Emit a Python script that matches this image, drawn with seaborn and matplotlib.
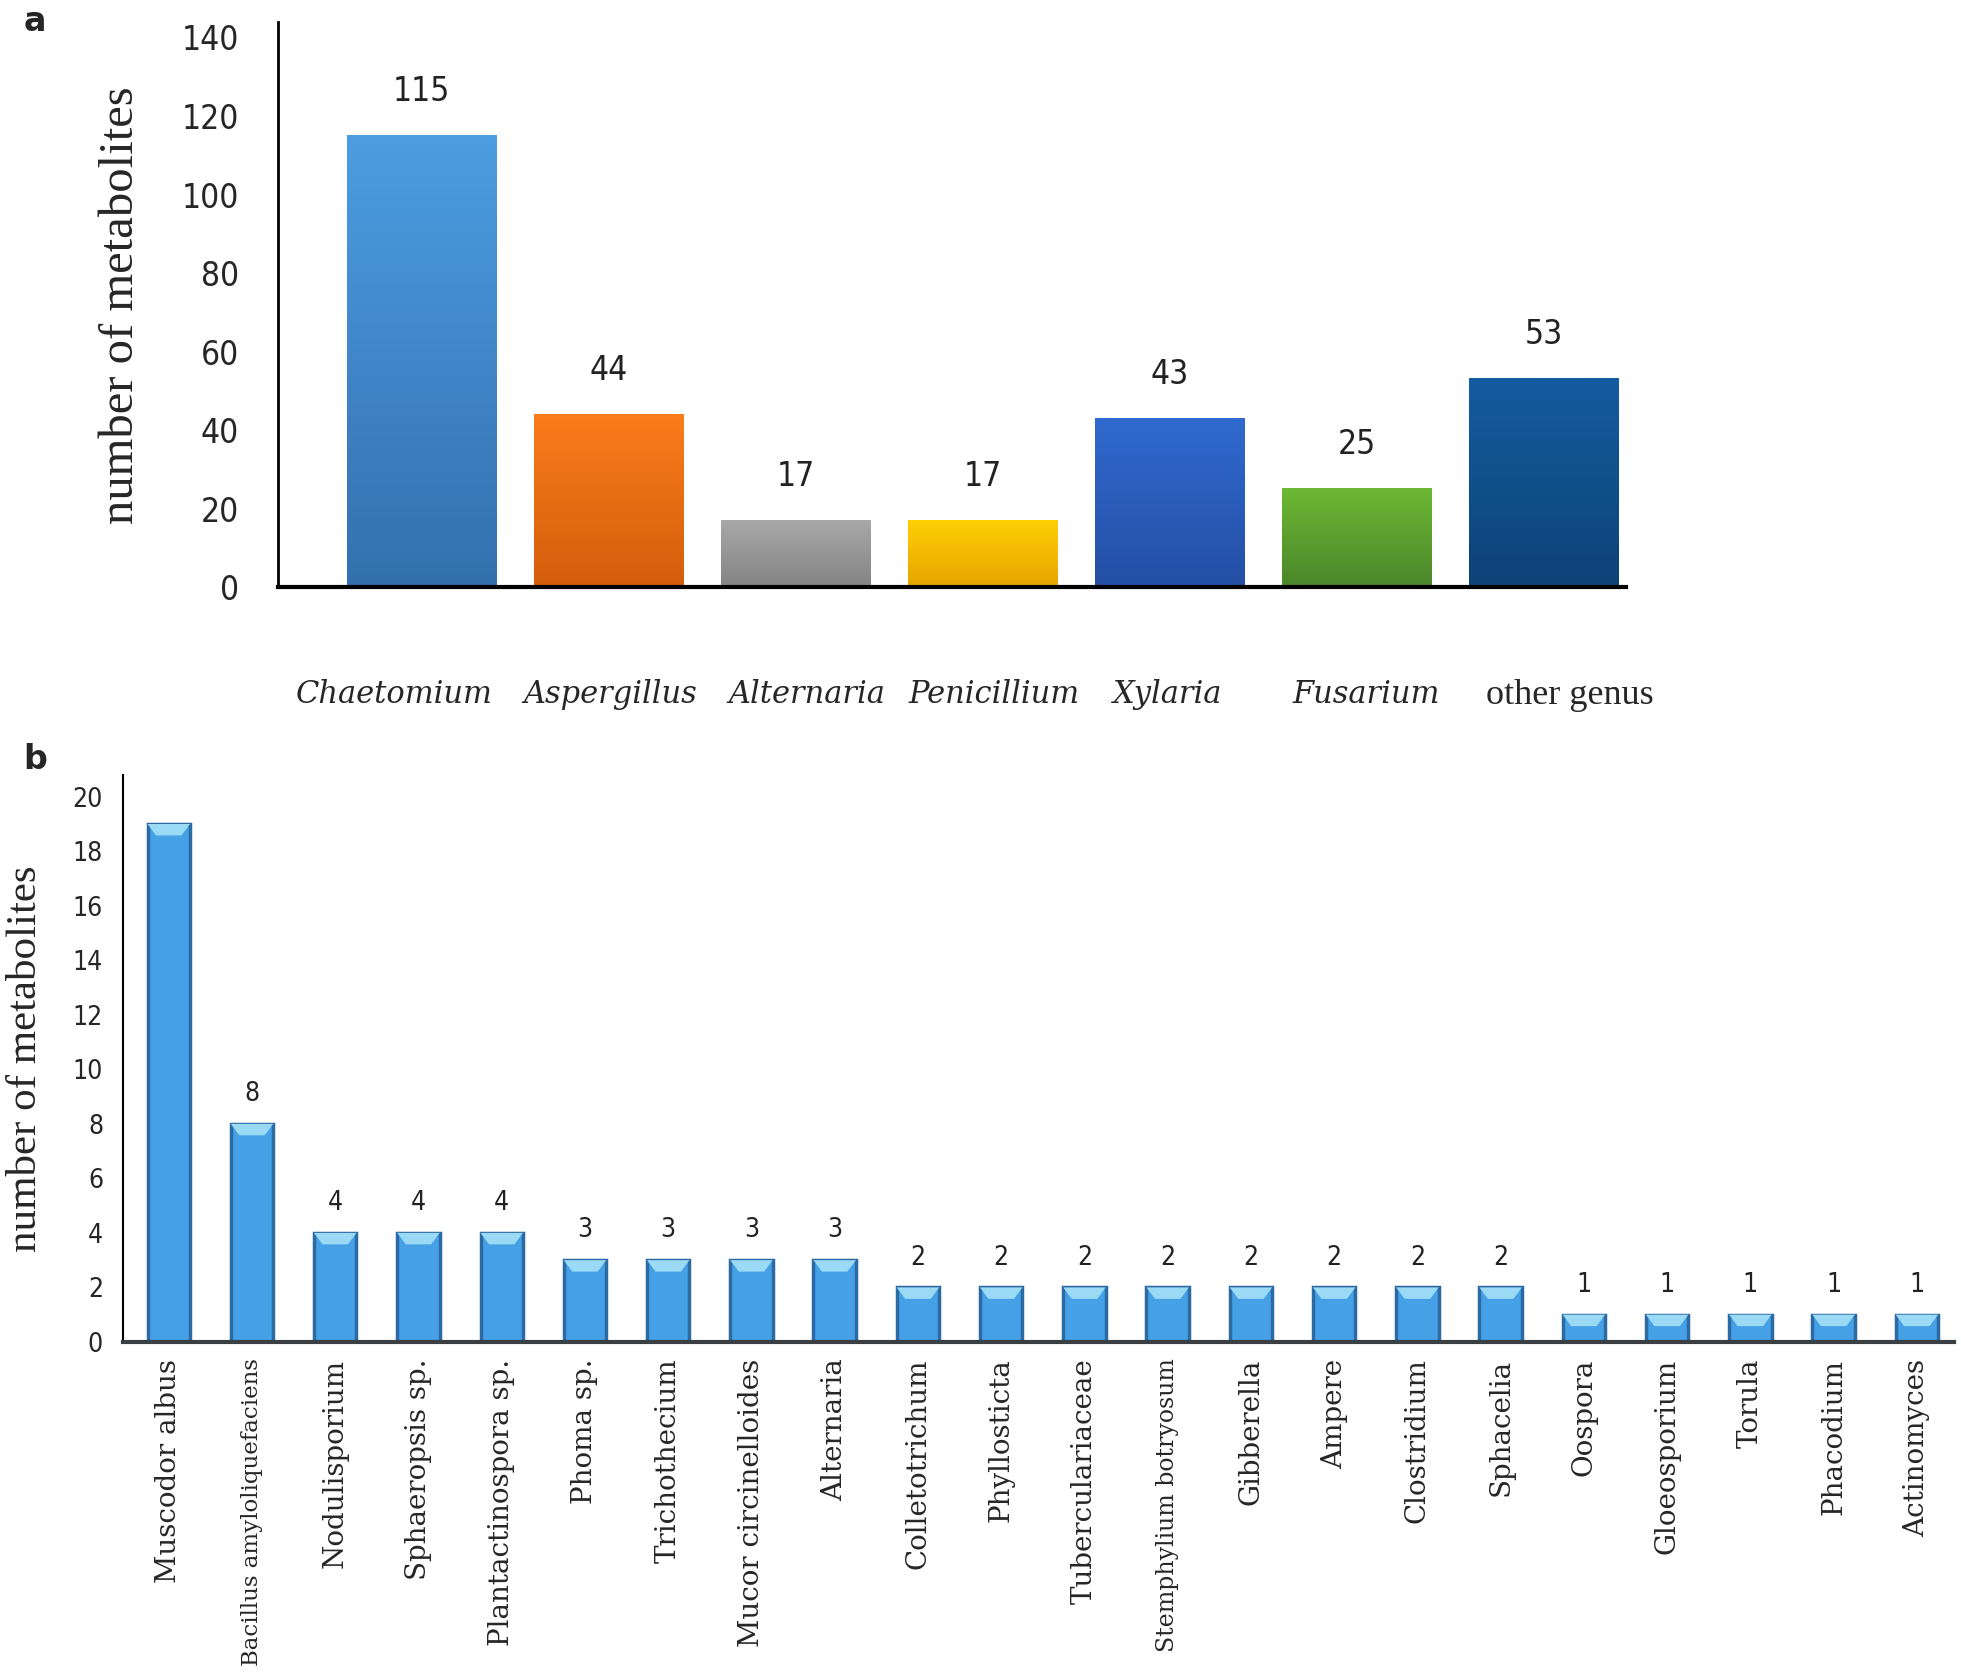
import matplotlib
matplotlib.use("Agg")
import matplotlib.pyplot as plt
import matplotlib.transforms as mtransforms
import numpy as np
import pandas as pd
import seaborn as sns
from matplotlib import font_manager
from matplotlib.colors import LinearSegmentedColormap

# panel a data
genus_a = ["Chaetomium", "Aspergillus", "Alternaria", "Penicillium",
           "Xylaria", "Fusarium", "other genus"]
counts_a = [115, 44, 17, 17, 43, 25, 53]
top_colors_a = ["#4c9de2", "#fb7c1a", "#a8a8a8", "#ffcf05",
                "#3069cf", "#6db834", "#145c9f"]
bottom_colors_a = ["#3470ae", "#d35e0c", "#848484", "#e5a500",
                   "#244fa4", "#4a862a", "#0d4377"]

# panel b data
taxa_b = ["Muscodor albus", "Bacillus amyloliquefaciens", "Nodulisporium",
          "Sphaeropsis sp.", "Plantactinospora sp.", "Phoma sp.",
          "Trichothecium", "Mucor circinelloides", "Alternaria",
          "Colletotrichum", "Phyllosticta", "Tuberculariaceae",
          "Stemphylium botryosum", "Gibberella", "Ampere", "Clostridium",
          "Sphacelia", "Oospora", "Gloeosporium", "Torula", "Phacodium",
          "Actinomyces"]
counts_b = [19, 8, 4, 4, 4, 3, 3, 3, 3, 2, 2, 2, 2, 2, 2, 2, 2,
            1, 1, 1, 1, 1]
# the tallest bar carries no value label in the original figure
labels_b = [""] + [str(v) for v in counts_b[1:]]

installed = {f.name for f in font_manager.fontManager.ttflist}
NARROW = "Liberation Sans Narrow" if "Liberation Sans Narrow" in installed else "DejaVu Sans"
SERIF = "Liberation Serif"

sns.set_theme(style="white")
plt.rcParams["font.family"] = ["DejaVu Sans"]

fig = plt.figure(figsize=(19.61, 16.77), dpi=100)
ax_a = fig.add_axes([0.1416, 0.6497, 0.6874, 0.3369])
ax_b = fig.add_axes([0.0625, 0.1998, 0.9341, 0.3381])


def label_bars(ax, patches, labels, pad, size):
    for patch, txt in zip(patches, labels):
        cx = patch.get_x() + patch.get_width() / 2
        ax.annotate(txt, (cx, patch.get_height()), xytext=(0, pad),
                    textcoords="offset points", ha="center", va="bottom",
                    fontsize=size, family=NARROW, stretch="condensed",
                    color="#222222")


# ---- panel a ----
df_a = pd.DataFrame({"genus": genus_a, "count": counts_a})
sns.barplot(data=df_a, x="genus", y="count", hue="genus",
            palette=dict(zip(genus_a, top_colors_a)), order=genus_a,
            hue_order=genus_a, width=0.8, saturation=1, legend=False, ax=ax_a)
bars_a = [p for p in ax_a.patches if p.get_height() > 0]
for patch, c_top, c_bot in zip(bars_a, top_colors_a, bottom_colors_a):
    x0, y0 = patch.get_x(), patch.get_y()
    w, h = patch.get_width(), patch.get_height()
    cmap = LinearSegmentedColormap.from_list("g", [c_bot, c_top])
    grad = np.linspace(1, 0, 100).reshape(-1, 1)
    ax_a.imshow(grad, cmap=cmap, aspect="auto", extent=(x0, x0 + w, y0, y0 + h),
                vmin=0, vmax=1, zorder=patch.get_zorder())
    patch.set_facecolor("none")
ax_a.set_xlim(-0.77, 6.44)
ax_a.set_ylim(0, 143.8)
ax_a.set_yticks(np.arange(0, 141, 20))
label_bars(ax_a, bars_a, [str(v) for v in counts_a], 20, 24)

ax_a.set_xlabel("")
ax_a.set_ylabel("number of metabolites", family=SERIF, fontsize=35, labelpad=28)
ax_a.tick_params(axis="y", length=0, pad=28, labelsize=24)
ax_a.tick_params(axis="x", length=0, pad=66)
for lab in ax_a.get_yticklabels():
    lab.set_family(NARROW)
    lab.set_stretch("condensed")
# horizontal nudges (pixels) of the genus names, as in the original layout
nudge_a = [-27, 2, 11, 12, -2, 10, 26]
for lab, dx in zip(ax_a.get_xticklabels(), nudge_a):
    lab.set_family("DejaVu Serif")
    lab.set_fontsize(22)
    if lab.get_text() != "other genus":
        lab.set_style("italic")
    else:
        lab.set_family(SERIF)
        lab.set_fontsize(26)
    lab.set_transform(lab.get_transform() +
                      mtransforms.ScaledTranslation(dx / 100, 0, fig.dpi_scale_trans))
sns.despine(ax=ax_a)
ax_a.spines["left"].set_linewidth(2)
ax_a.spines["left"].set_color("black")
ax_a.spines["bottom"].set_linewidth(3)
ax_a.spines["bottom"].set_color("black")

# ---- panel b ----
df_b = pd.DataFrame({"taxon": taxa_b, "count": counts_b})
sns.barplot(data=df_b, x="taxon", y="count", color="#45a0e6", order=taxa_b,
            width=0.51, saturation=1, edgecolor="#2c6aa3", linewidth=2.5,
            ax=ax_b)
bars_b = list(ax_b.patches)
for patch in bars_b:
    x0, h, w = patch.get_x(), patch.get_height(), patch.get_width()
    cap = plt.Polygon([[x0, h], [x0 + w, h], [x0 + 0.8 * w, h - 0.42],
                       [x0 + 0.2 * w, h - 0.42]], closed=True,
                      facecolor="#9adaf5", edgecolor="none", zorder=3)
    ax_b.add_patch(cap)
ax_b.set_xlim(-0.555, 21.45)
ax_b.set_ylim(0, 20.8)
ax_b.set_yticks(np.arange(0, 21, 2))
label_bars(ax_b, bars_b, labels_b, 12, 19)
ax_b.set_xlabel("")
ax_b.set_ylabel("number of metabolites", family=SERIF, fontsize=31, labelpad=20)
ax_b.tick_params(axis="y", length=0, pad=14, labelsize=19)
ax_b.tick_params(axis="x", length=0, pad=12)
for lab in ax_b.get_yticklabels():
    lab.set_family(NARROW)
    lab.set_stretch("condensed")
small = {"Bacillus amyloliquefaciens": 16.5, "Stemphylium botryosum": 17}
for lab in ax_b.get_xticklabels():
    lab.set_rotation(90)
    lab.set_family("DejaVu Serif")
    lab.set_fontsize(small.get(lab.get_text(), 20))
    lab.set_va("top")
    lab.set_ha("center")
sns.despine(ax=ax_b)
ax_b.spines["left"].set_linewidth(1.5)
ax_b.spines["left"].set_color("black")
ax_b.spines["bottom"].set_linewidth(3)
ax_b.spines["bottom"].set_color("#3a3f44")

fig.text(0.012, 0.997, "a", fontsize=24, fontweight="bold", va="top")
fig.text(0.012, 0.557, "b", fontsize=24, fontweight="bold", va="top")

fig.savefig("out.png", dpi=100, facecolor="white")
